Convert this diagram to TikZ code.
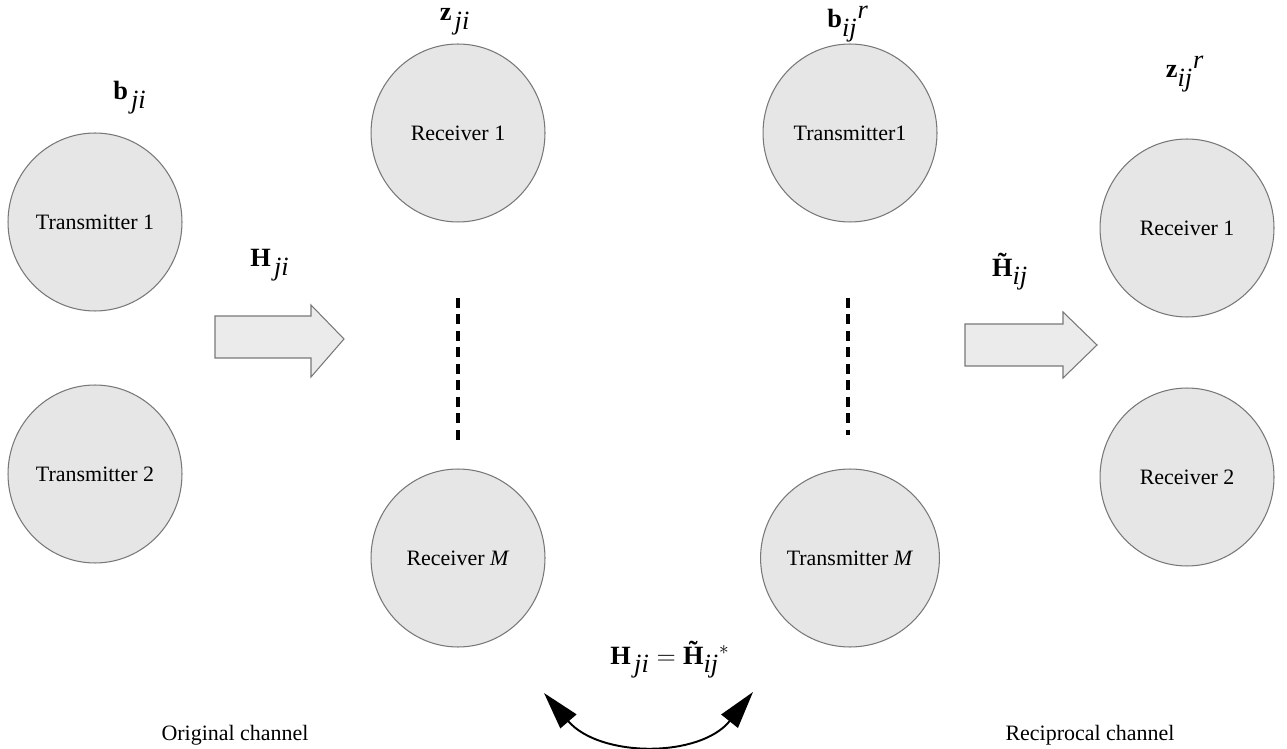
\documentclass[tikz,border=0pt]{standalone}
\usepackage{fontspec}
\setmainfont{Liberation Serif}
\usetikzlibrary{shapes.geometric,arrows.meta}
\definecolor{cfill}{RGB}{230,230,230}
\definecolor{cdraw}{RGB}{120,120,120}
\definecolor{afill}{RGB}{235,235,235}
\begin{document}
\begin{tikzpicture}[x=0.02cm,y=-0.02cm,
  circ/.style={ellipse,draw=cdraw,fill=cfill,line width=0.6pt,inner sep=0pt,
    minimum width=3.48cm,minimum height=3.56cm,font=\fontsize{12.5}{15}\selectfont},
  lbl/.style={inner sep=0pt,font=\fontsize{15}{17}\selectfont},
  txt/.style={inner sep=0pt,font=\fontsize{12.5}{15}\selectfont},
  blockarrow/.style={draw=cdraw,fill=afill,line width=0.6pt},
  dotline/.style={line width=2.8pt,dash pattern=on 0.2cm off 0.13cm},
  curvearrow/.style={line width=1.1pt,{Triangle[length=0.75cm,width=0.42cm]}-{Triangle[length=0.75cm,width=0.42cm]}}]
\useasboundingbox (0,0) rectangle (1287,749);
% circles
\node[circ] (T1) at (95,222) {Transmitter 1};
\node[circ] (T2) at (95,474) {Transmitter 2};
\node[circ] (R1) at (458,133) {Receiver 1};
\node[circ] (RM) at (458,558) {Receiver \textit{M}};
\node[circ] (TT1) at (850,133) {Transmitter1};
\node[circ] (TM) at (850,558) {Transmitter \textit{M}};
\node[circ] (RR1) at (1187,228) {Receiver 1};
\node[circ] (RR2) at (1187,477) {Receiver 2};
% labels
\node[lbl] (lb) at (130,98) {$\textbf{b}_{\,\textit{ji}}$};
\node[lbl] (lz) at (455,22) {$\textbf{z}_{\,\textit{ji}}$};
\node[lbl] (lbr) at (848,24) {$\textbf{b}_{\textit{ij}}{}^{\textit{r}}$};
\node[lbl] (lzr) at (1185,74) {$\textbf{z}_{\textit{ij}}{}^{\textit{r}}$};
\node[lbl] (lH) at (270,265) {$\textbf{H}_{\,\textit{ji}}$};
\node[lbl] (lHt) at (1010,272) {$\textbf{\~H}_{\textit{ij}}$};
\node[lbl] (leq) at (670,660) {$\textbf{H}_{\,\textit{ji}} = \textbf{\~H}_{\textit{ij}}{}^{*}$};
\node[txt] (orig) at (235,735) {Original channel};
\node[txt] (recip) at (1090,735) {Reciprocal channel};
% block arrows
\draw[blockarrow] (215,316) -- (311,316) -- (311,305) -- (344,339) -- (311,377) -- (311,358) -- (215,358) -- cycle;
\draw[blockarrow] (965,324) -- (1063,324) -- (1063,312) -- (1097,345) -- (1063,378) -- (1063,366) -- (965,366) -- cycle;
% dotted lines
\coordinate (d1a) at (458,298);
\coordinate (d1b) at (458,440);
\coordinate (d2a) at (848,298);
\coordinate (d2b) at (848,435);
\draw[dotline] (d1a) -- (d1b);
\draw[dotline] (d2a) -- (d2b);
% curved arrow
\coordinate (ca) at (544,693);
\coordinate (cb) at (753,692);
\draw[curvearrow] (ca) .. controls (600,758) and (700,758) .. (cb);
\end{tikzpicture}
\end{document}
